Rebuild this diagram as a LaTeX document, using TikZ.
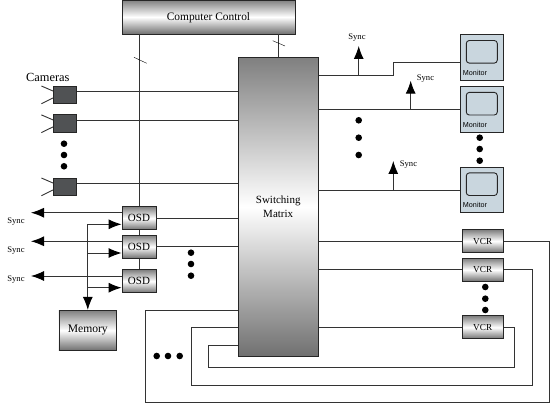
\documentclass[tikz,border=0pt]{standalone}
\usepackage{fontspec}
\setmainfont{Liberation Serif}
\setsansfont{Liberation Sans}
\usetikzlibrary{arrows.meta,positioning,calc}
\definecolor{wirecol}{HTML}{333333}
\definecolor{camfill}{HTML}{505254}
\definecolor{monfill}{HTML}{C9D6DE}
\begin{document}
\begin{tikzpicture}[
  x=1pt, y=-1pt,
  wire/.style={color=wirecol, line width=0.9pt},
  sigarrow/.style={wire, -{Latex[length=13pt,width=10pt,black]}},
  gradbox/.style={draw=black!85, line width=0.9pt, inner sep=0pt, top color=black!50, bottom color=black!56, middle color=white},
  osdbox/.style={gradbox, minimum width=34pt, minimum height=23pt, font=\fontsize{11}{12}\selectfont},
  vcrbox/.style={gradbox, minimum width=40.7pt, minimum height=23pt, font=\fontsize{9.2}{11}\selectfont},
  cambox/.style={draw=black!85, fill=camfill, line width=0.6pt, inner sep=0pt, minimum width=23.4pt, minimum height=17.4pt},
  monbox/.style={draw=black!85, fill=monfill, line width=0.9pt, inner sep=0pt, minimum width=42.3pt, minimum height=45.5pt},
  scrnbox/.style={draw=black!85, rounded corners=3pt, line width=0.9pt, inner sep=0pt, minimum width=31pt, minimum height=22.6pt},
  monlbl/.style={font=\sffamily\fontsize{7.2}{8}\selectfont, inner sep=0pt},
  synclbl/.style={font=\fontsize{8.6}{9}\selectfont, inner sep=0pt},
  dotmark/.style={circle, fill=black, inner sep=0pt, minimum size=6.6pt}
]
  \useasboundingbox (0,0) rectangle (550,404);
  % main blocks
  \node[gradbox, minimum width=173pt, minimum height=34pt, font=\fontsize{11.4}{12}\selectfont] (ctrl) at (208.5,17) {\raisebox{-4pt}[0pt][0pt]{Computer Control}};
  \node[gradbox, minimum width=80.3pt, minimum height=298.7pt, font=\fontsize{11}{14}\selectfont, align=center] (matrix) at (278.2,206.7) {Switching\\Matrix};
  \node[gradbox, minimum width=57.7pt, minimum height=40pt, font=\fontsize{11.6}{13}\selectfont] (memory) at (87.8,330.3) {Memory};
  \node[font=\fontsize{12.4}{14}\selectfont, inner sep=0pt] (camlbl) at (47.8,77) {Cameras};
  % cameras
  \foreach \i/\y in {a/94.6,b/123.5,c/186.6} {
    \node[cambox] (cam\i) at (65,\y) {};
    \draw[wire] ([yshift=3pt]cam\i.east) -- ([yshift=3pt]cam\i.east -| matrix.west);
    \draw[wire] ([yshift=3.6pt]cam\i.west) -- +(-11.6,-5);
    \draw[wire] ([yshift=-3.4pt]cam\i.west) -- +(-11.6,5.7);
  }
  % osd units
  \node[osdbox] (osda) at (139,218.2) {OSD};
  \node[osdbox] (osdb) at (139,246.8) {OSD};
  \node[osdbox] (osdc) at (139,281.3) {OSD};
  \draw[wire] (osda.north) -- (osda.north |- ctrl.south);
  \draw[wire] (osda) -- (osdb);
  \draw[wire] (osdb) -- (osdc);
  \draw[wire] (osda.east) -- (osda.east -| matrix.west);
  \draw[wire] (osdb.east) -- (osdb.east -| matrix.west);
  \draw (134,57.3) -- (146.7,63.3);
  \coordinate (linkb) at (278,57.3);
  \draw[wire] (linkb |- ctrl.south) -- (linkb);
  \draw (272.7,40.7) -- (285,46);
  % sync out of the osd units
  \node[synclbl] (synca) at (16,222) {Sync};
  \node[synclbl] (syncb) at (16,251) {Sync};
  \node[synclbl] (syncc) at (16,279.7) {Sync};
  \foreach \i/\y in {a/212.7,b/241.3,c/276} {
    \coordinate (out\i) at (31,\y);
    \draw[sigarrow] (out\i -| osd\i.west) -- (out\i);
  }
  % memory bus
  \coordinate (bus) at (87.8,224.3);
  \draw[sigarrow] (bus) -- (bus -| memory.north) -- (memory.north);
  \draw[sigarrow] (bus) -- (bus -| osda.west);
  \coordinate (busb) at (87.8,253);
  \draw[sigarrow] (busb) -- (busb -| osdb.west);
  \coordinate (busc) at (87.8,287.7);
  \draw[sigarrow] (busc) -- (busc -| osdc.west);
  % monitors
  \foreach \i/\y in {a/57.6,b/109.5,c/190} {
    \node[monbox] (mon\i) at (481.8,\y) {};
    \node[scrnbox] (scr\i) at (481.8,\y-5.8) {};
    \node[monlbl] (txt\i) at (475,\y+15) {Monitor};
  }
  \coordinate (stepa) at (393.7,75);
  \draw[wire] (stepa -| matrix.east) -- (stepa) -- (393.7,62.7) -- (393.7,62.7 -| mona.west);
  \draw[wire] (matrix.east |- monb.west) -- (monb.west);
  \draw[wire] (matrix.east |- monc.west) -- (monc.west);
  \coordinate (upa) at (358.7,46);
  \coordinate (upb) at (410.7,80.7);
  \coordinate (upc) at (393.3,161);
  \draw[sigarrow] (upa |- stepa) -- (upa);
  \draw[sigarrow] (upb |- monb.west) -- (upb);
  \draw[sigarrow] (upc |- monc.west) -- (upc);
  \node[synclbl] (syncd) at (357,38) {Sync};
  \node[synclbl] (synce) at (425.5,79) {Sync};
  \node[synclbl] (syncf) at (408.5,165) {Sync};
  % vcrs and the returns to the matrix
  \node[vcrbox] (vcra) at (482.7,241.2) {VCR};
  \node[vcrbox] (vcrb) at (482.7,269.8) {VCR};
  \node[vcrbox] (vcrc) at (482.7,327.4) {VCR};
  \draw[wire] (matrix.east |- vcra.west) -- (vcra.west);
  \draw[wire] (matrix.east |- vcrb.west) -- (vcrb.west);
  \draw[wire] (matrix.east |- vcrc.west) -- (vcrc.west);
  \coordinate (backa) at (145.7,310.3);
  \coordinate (backb) at (191.7,327.4);
  \coordinate (backc) at (208.7,345);
  \draw[wire] (vcra.east) -- (549,241.2) -- (549,402.3) -- (145.7,402.3) -- (backa) -- (backa -| matrix.west);
  \draw[wire] (vcrb.east) -- (532,269.8) -- (532,385) -- (191.7,385) -- (backb) -- (backb -| matrix.west);
  \draw[wire] (vcrc.east) -- (514.7,327.4) -- (514.7,367.7) -- (208.7,367.7) -- (backc) -- (backc -| matrix.west);
  % dots
  \foreach \n/\x/\y in {ca/64/143.7,cb/64/155,cc/64/166.3,
                        oa/191/252.7,ob/191/264,oc/191/275.7,
                        ra/156.7/356,rb/168/356,rc/179.7/356,
                        sa/358.7/120.3,sb/358.7/137.7,sc/358.7/155,
                        ma/479.7/137.7,mb/479.7/149,mc/479.7/160.7,
                        va/485.3/287,vb/485.3/298.7,vc/485.3/310}
    \node[dotmark] (dot\n) at (\x,\y) {};
\end{tikzpicture}
\end{document}
